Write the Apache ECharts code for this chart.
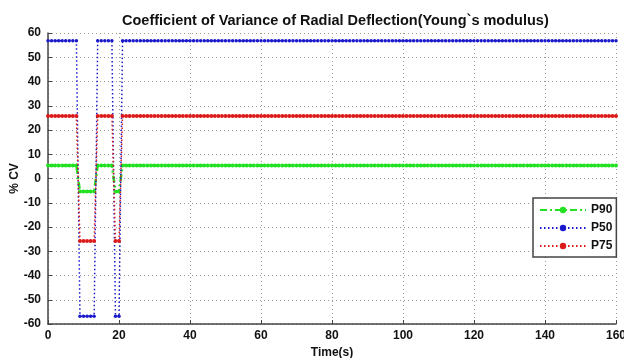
<!DOCTYPE html>
<html><head><meta charset="utf-8">
<script src="https://cdn.jsdelivr.net/npm/echarts@6/dist/echarts.min.js"></script>
<style>html,body{margin:0;padding:0;background:#fff}#c{width:624px;height:358px}</style>
</head><body><div id="c"></div>
<script>
var titleText = "Coefficient of Variance of Radial Deflection(Young`s modulus)";
var xTicks = [0, 20, 40, 60, 80, 100, 120, 140, 160];
var yTicks = [-60, -50, -40, -30, -20, -10, 0, 10, 20, 30, 40, 50, 60];
var seriesNames = ["P90", "P50", "P75"];

var times = [
0,1,2,3,4,5,6,7,8,9,
10,11,12,13,14,15,16,17,18,19,
20,21,22,23,24,25,26,27,28,29,
30,31,32,33,34,35,36,37,38,39,
40,41,42,43,44,45,46,47,48,49,
50,51,52,53,54,55,56,57,58,59,
60,61,62,63,64,65,66,67,68,69,
70,71,72,73,74,75,76,77,78,79,
80,81,82,83,84,85,86,87,88,89,
90,91,92,93,94,95,96,97,98,99,
100,101,102,103,104,105,106,107,108,109,
110,111,112,113,114,115,116,117,118,119,
120,121,122,123,124,125,126,127,128,129,
130,131,132,133,134,135,136,137,138,139,
140,141,142,143,144,145,146,147,148,149,
150,151,152,153,154,155,156,157,158,159,
160];

var p90 = [
5.4,5.4,5.4,5.4,5.4,5.4,5.4,5.4,5.4,-5.4,
-5.4,-5.4,-5.4,-5.4,5.4,5.4,5.4,5.4,5.4,-5.4,
-5.4,5.4,5.4,5.4,5.4,5.4,5.4,5.4,5.4,5.4,
5.4,5.4,5.4,5.4,5.4,5.4,5.4,5.4,5.4,5.4,
5.4,5.4,5.4,5.4,5.4,5.4,5.4,5.4,5.4,5.4,
5.4,5.4,5.4,5.4,5.4,5.4,5.4,5.4,5.4,5.4,
5.4,5.4,5.4,5.4,5.4,5.4,5.4,5.4,5.4,5.4,
5.4,5.4,5.4,5.4,5.4,5.4,5.4,5.4,5.4,5.4,
5.4,5.4,5.4,5.4,5.4,5.4,5.4,5.4,5.4,5.4,
5.4,5.4,5.4,5.4,5.4,5.4,5.4,5.4,5.4,5.4,
5.4,5.4,5.4,5.4,5.4,5.4,5.4,5.4,5.4,5.4,
5.4,5.4,5.4,5.4,5.4,5.4,5.4,5.4,5.4,5.4,
5.4,5.4,5.4,5.4,5.4,5.4,5.4,5.4,5.4,5.4,
5.4,5.4,5.4,5.4,5.4,5.4,5.4,5.4,5.4,5.4,
5.4,5.4,5.4,5.4,5.4,5.4,5.4,5.4,5.4,5.4,
5.4,5.4,5.4,5.4,5.4,5.4,5.4,5.4,5.4,5.4,
5.4];

var p50 = [
56.8,56.8,56.8,56.8,56.8,56.8,56.8,56.8,56.8,-56.8,
-56.8,-56.8,-56.8,-56.8,56.8,56.8,56.8,56.8,56.8,-56.8,
-56.8,56.8,56.8,56.8,56.8,56.8,56.8,56.8,56.8,56.8,
56.8,56.8,56.8,56.8,56.8,56.8,56.8,56.8,56.8,56.8,
56.8,56.8,56.8,56.8,56.8,56.8,56.8,56.8,56.8,56.8,
56.8,56.8,56.8,56.8,56.8,56.8,56.8,56.8,56.8,56.8,
56.8,56.8,56.8,56.8,56.8,56.8,56.8,56.8,56.8,56.8,
56.8,56.8,56.8,56.8,56.8,56.8,56.8,56.8,56.8,56.8,
56.8,56.8,56.8,56.8,56.8,56.8,56.8,56.8,56.8,56.8,
56.8,56.8,56.8,56.8,56.8,56.8,56.8,56.8,56.8,56.8,
56.8,56.8,56.8,56.8,56.8,56.8,56.8,56.8,56.8,56.8,
56.8,56.8,56.8,56.8,56.8,56.8,56.8,56.8,56.8,56.8,
56.8,56.8,56.8,56.8,56.8,56.8,56.8,56.8,56.8,56.8,
56.8,56.8,56.8,56.8,56.8,56.8,56.8,56.8,56.8,56.8,
56.8,56.8,56.8,56.8,56.8,56.8,56.8,56.8,56.8,56.8,
56.8,56.8,56.8,56.8,56.8,56.8,56.8,56.8,56.8,56.8,
56.8];

var p75 = [
25.8,25.8,25.8,25.8,25.8,25.8,25.8,25.8,25.8,-25.8,
-25.8,-25.8,-25.8,-25.8,25.8,25.8,25.8,25.8,25.8,-25.8,
-25.8,25.8,25.8,25.8,25.8,25.8,25.8,25.8,25.8,25.8,
25.8,25.8,25.8,25.8,25.8,25.8,25.8,25.8,25.8,25.8,
25.8,25.8,25.8,25.8,25.8,25.8,25.8,25.8,25.8,25.8,
25.8,25.8,25.8,25.8,25.8,25.8,25.8,25.8,25.8,25.8,
25.8,25.8,25.8,25.8,25.8,25.8,25.8,25.8,25.8,25.8,
25.8,25.8,25.8,25.8,25.8,25.8,25.8,25.8,25.8,25.8,
25.8,25.8,25.8,25.8,25.8,25.8,25.8,25.8,25.8,25.8,
25.8,25.8,25.8,25.8,25.8,25.8,25.8,25.8,25.8,25.8,
25.8,25.8,25.8,25.8,25.8,25.8,25.8,25.8,25.8,25.8,
25.8,25.8,25.8,25.8,25.8,25.8,25.8,25.8,25.8,25.8,
25.8,25.8,25.8,25.8,25.8,25.8,25.8,25.8,25.8,25.8,
25.8,25.8,25.8,25.8,25.8,25.8,25.8,25.8,25.8,25.8,
25.8,25.8,25.8,25.8,25.8,25.8,25.8,25.8,25.8,25.8,
25.8,25.8,25.8,25.8,25.8,25.8,25.8,25.8,25.8,25.8,
25.8];

function pairs(vals) {
  return times.map(function (t, i) { return [t, vals[i]]; });
}

var FONT = "Liberation Sans";
var chart = echarts.init(document.getElementById('c'), null, { renderer: 'canvas' });
chart.setOption({
  animation: false,
  backgroundColor: '#ffffff',
  title: {
    text: titleText, left: 117, top: 8,
    textStyle: { fontFamily: FONT, fontSize: 14.5, fontWeight: 'bold', color: '#111' }
  },
  grid: { left: 48, right: 8, top: 33, bottom: 34, containLabel: false, outerBoundsMode: 'none' },
  xAxis: {
    type: 'value', min: xTicks[0], max: xTicks[xTicks.length - 1], interval: 20,
    name: 'Time(s)', nameLocation: 'middle', nameGap: 21,
    nameTextStyle: { fontFamily: FONT, fontSize: 12, fontWeight: 'bold', color: '#111' },
    axisLine: { onZero: false, lineStyle: { color: '#444', width: 1.5 } },
    axisTick: { inside: true, length: 4, lineStyle: { color: '#444' } },
    axisLabel: { fontFamily: FONT, fontSize: 12, fontWeight: 'bold', color: '#111', margin: 6 },
    splitLine: { show: true, lineStyle: { color: '#9a9a9a', type: [1, 3], width: 1 } }
  },
  yAxis: {
    type: 'value', min: yTicks[0], max: yTicks[yTicks.length - 1], interval: 10,
    name: '% CV', nameLocation: 'middle', nameGap: 27, nameRotate: 90, nameMoveOverlap: false,
    nameTextStyle: { fontFamily: FONT, fontSize: 12, fontWeight: 'bold', color: '#111' },
    axisLine: { show: true, onZero: false, lineStyle: { color: '#444', width: 1.5 } },
    axisTick: { show: true, inside: true, length: 4, lineStyle: { color: '#444' } },
    axisLabel: { fontFamily: FONT, fontSize: 12, fontWeight: 'bold', color: '#111', margin: 7 },
    splitLine: { show: true, lineStyle: { color: '#9a9a9a', type: [1, 3], width: 1 } }
  },
  legend: {
    orient: 'vertical', left: 533, top: 198,
    itemWidth: 46, itemHeight: 8, itemGap: 6,
    padding: [6, 4, 5, 6],
    borderColor: '#444', borderWidth: 1.5, backgroundColor: '#fff',
    textStyle: { fontFamily: FONT, fontSize: 12, fontWeight: 'bold', color: '#111' },
    data: seriesNames
  },
  series: [
    {
      name: seriesNames[0], type: 'line', data: pairs(p90),
      symbol: 'circle', symbolSize: 4, showSymbol: true,
      lineStyle: { color: '#22e022', width: 2.5, type: [7, 3, 2, 3] },
      itemStyle: { color: '#22e022' }, z: 3
    },
    {
      name: seriesNames[1], type: 'line', data: pairs(p50),
      symbol: 'circle', symbolSize: 3.5, showSymbol: true,
      lineStyle: { color: '#1a1acc', width: 1.5, type: [1.5, 2.5] },
      itemStyle: { color: '#1a1acc' }, z: 4
    },
    {
      name: seriesNames[2], type: 'line', data: pairs(p75),
      symbol: 'circle', symbolSize: 4, showSymbol: true,
      lineStyle: { color: '#dd1a1a', width: 1.5, type: [1.5, 2.5] },
      itemStyle: { color: '#dd1a1a' }, z: 5
    }
  ]
});
</script>
</body></html>
